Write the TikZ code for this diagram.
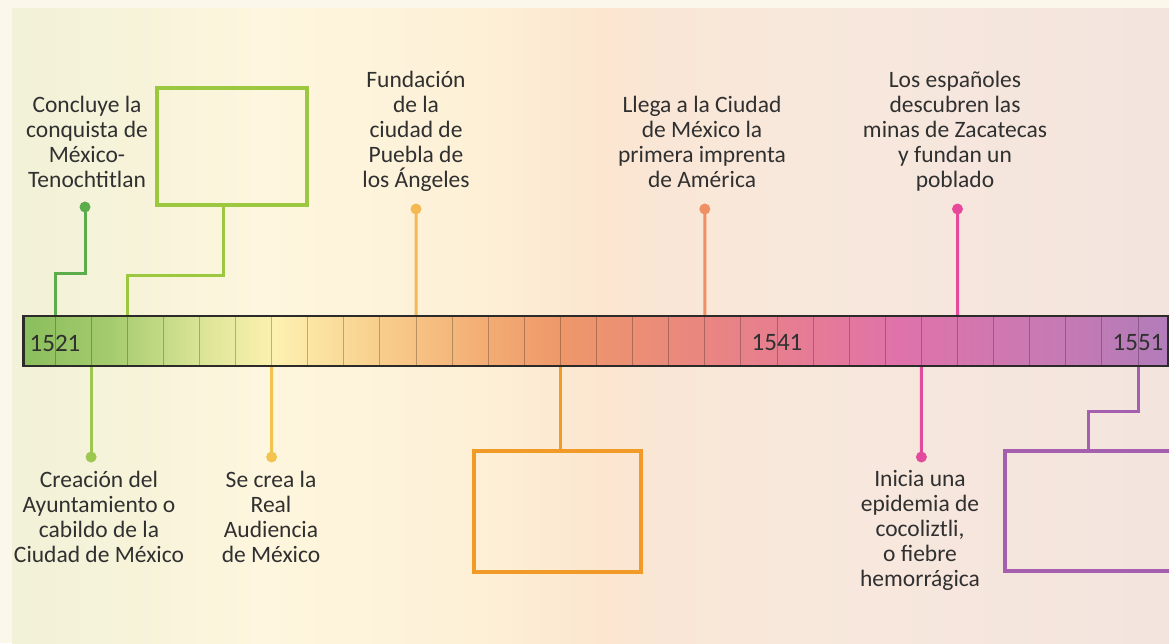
\documentclass[tikz,border=0pt]{standalone}
\usepackage{fontspec}
\setmainfont{Carlito}
\usetikzlibrary{positioning}
\definecolor{txtgray}{RGB}{48,48,48}
\definecolor{barline}{RGB}{45,42,42}
\definecolor{bgedge}{RGB}{251,247,234}
% background stops
\definecolor{bg0}{RGB}{242,242,216}
\definecolor{bg1}{RGB}{246,243,217}
\definecolor{bg2}{RGB}{254,246,222}
\definecolor{bg3}{RGB}{253,240,215}
\definecolor{bg4}{RGB}{252,230,208}
\definecolor{bg5}{RGB}{250,230,214}
\definecolor{bg6}{RGB}{248,232,220}
\definecolor{bg7}{RGB}{243,228,222}
% bar stops
\definecolor{bar0}{RGB}{138,190,92}
\definecolor{bar1}{RGB}{165,203,110}
\definecolor{bar2}{RGB}{218,228,150}
\definecolor{bar3}{RGB}{253,241,176}
\definecolor{bar4}{RGB}{248,206,140}
\definecolor{bar5}{RGB}{243,174,117}
\definecolor{bar6}{RGB}{238,152,105}
\definecolor{bar7}{RGB}{233,134,128}
\definecolor{bar8}{RGB}{229,122,152}
\definecolor{bar9}{RGB}{223,114,170}
\definecolor{bar10}{RGB}{203,121,178}
\definecolor{bar11}{RGB}{178,124,186}
% event colours
\definecolor{conqgreen}{RGB}{91,173,75}
\definecolor{boxgreen}{RGB}{155,200,62}
\definecolor{cabgreen}{RGB}{157,200,80}
\definecolor{audyellow}{RGB}{243,195,80}
\definecolor{pueorange}{RGB}{244,185,82}
\definecolor{boxorange}{RGB}{242,154,40}
\definecolor{impsalmon}{RGB}{238,143,100}
\definecolor{cocopink}{RGB}{226,75,155}
\definecolor{zacpink}{RGB}{232,72,155}
\definecolor{boxpurple}{RGB}{165,95,175}
\tikzset{
  evtext/.style={
    align=center, inner sep=0pt, anchor=north,
    text=txtgray, font=\fontsize{23.5}{25}\selectfont
  },
  evdot/.style={circle, inner sep=0pt, minimum size=11pt},
  link/.style={line width=3pt},
  emptybox/.style={rectangle, draw, line width=4pt, inner sep=0pt},
  yearlabel/.style={text=txtgray, inner sep=0pt, font=\fontsize{25}{30}\selectfont},
  tickline/.style={black, opacity=0.25, line width=1pt}
}
\begin{document}
\begin{tikzpicture}[x=1pt, y=-1pt]
  \clip (0,0) rectangle (1169,643);
  \fill[bgedge] (0,0) rectangle (1169,643);
  \foreach \xa/\ca/\xb/\cb in {12/bg0/130/bg1, 130/bg1/260/bg2, 260/bg2/480/bg3, 480/bg3/600/bg4,
      600/bg4/660/bg5, 660/bg5/800/bg6, 800/bg6/1169/bg7}
    \shade[left color=\ca, right color=\cb] (\xa,8) rectangle (\xb+1,643);

  % tick coordinates, one per year
  \foreach \k in {0,...,30} {
    \coordinate (top\k) at (55+36.1*\k,316);
    \coordinate (bot\k) at (55+36.1*\k,366);
  }

  \node[emptybox, draw=boxgreen, minimum width=150pt, minimum height=117pt] (box1) at (232,146.5) {};
  \node[emptybox, draw=boxorange, minimum width=167pt, minimum height=121pt] (box2) at (557.5,511.5) {};
  \node[emptybox, draw=boxpurple, minimum width=167pt, minimum height=120pt] (box3) at (1088.5,511) {};

  \node[evdot] (dconq) at (85,207) {};
  \node[evdot] (dcab) at (91.1,457) {};
  \node[evdot] (daud) at (271.6,457) {};
  \node[evdot] (dpue) at (416,209) {};
  \node[evdot] (dimp) at (704.8,209) {};
  \node[evdot] (dcoco) at (921.4,457) {};
  \node[evdot] (dzac) at (957.5,209) {};

  \draw[link, conqgreen] (dconq.center) -- (85,273) -| (top0);
  \draw[link, boxgreen] ([xshift=-9pt]box1.south) -- ++(0,68) -| (top2);
  \draw[link, cabgreen] (bot1) -- (dcab.center);
  \draw[link, audyellow] (bot6) -- (daud.center);
  \draw[link, pueorange] (dpue.center) -- (top10);
  \draw[link, boxorange] (bot14) -- (bot14 |- box2.north);
  \draw[link, impsalmon] (dimp.center) -- (top18);
  \draw[link, cocopink] (bot24) -- (dcoco.center);
  \draw[link, zacpink] (dzac.center) -- (top25);
  \draw[link, boxpurple] (bot30) -- ++(0,45) -| (box3.north);

  % dots on top of the connectors
  \foreach \d/\c in {dconq/conqgreen, dcab/cabgreen, daud/audyellow, dpue/pueorange,
      dimp/impsalmon, dcoco/cocopink, dzac/zacpink}
    \fill[\c] (\d) circle (5.5pt);

  % the time bar
  \foreach \xa/\ca/\xb/\cb in {23/bar0/110/bar1, 110/bar1/200/bar2, 200/bar2/275/bar3, 275/bar3/380/bar4,
      380/bar4/480/bar5, 480/bar5/560/bar6, 560/bar6/700/bar7, 700/bar7/820/bar8,
      820/bar8/900/bar9, 900/bar9/1030/bar10, 1030/bar10/1168/bar11}
    \shade[left color=\ca, right color=\cb] (\xa,316) rectangle (\xb+0.5,366);
  \foreach \k in {0,...,30}
    \draw[tickline] (top\k) -- (bot\k);
  \node[draw=barline, line width=2.5pt, minimum width=1144.5pt, minimum height=50pt, inner sep=0pt] (bar) at (595.5,341) {};

  \node[yearlabel] (y1521) at (55,343) {1521};
  \node[yearlabel] (y1541) at (777,343) {1541};
  \node[yearlabel] (y1551) at (1138,343) {1551};

  \node[evtext] (conq) at (87,96) {Concluye la\\conquista de\\México-\\Tenochtitlan};
  \node[evtext] (pue) at (416,71) {Fundación\\de la\\ciudad de\\Puebla de\\los Ángeles};
  \node[evtext] (imp) at (702,96) {Llega a la Ciudad\\de México la\\primera imprenta\\de América};
  \node[evtext] (zac) at (955,71) {Los españoles\\descubren las\\minas de Zacatecas\\y fundan un\\poblado};
  \node[evtext] (cab) at (99,470.5) {Creación del\\Ayuntamiento o\\cabildo de la\\Ciudad de México};
  \node[evtext] (aud) at (271,470.5) {Se crea la\\Real\\Audiencia\\de México};
  \node[evtext] (coco) at (920,470.5) {Inicia una\\epidemia de\\cocoliztli,\\o fiebre\\hemorrágica};
\end{tikzpicture}
\end{document}
